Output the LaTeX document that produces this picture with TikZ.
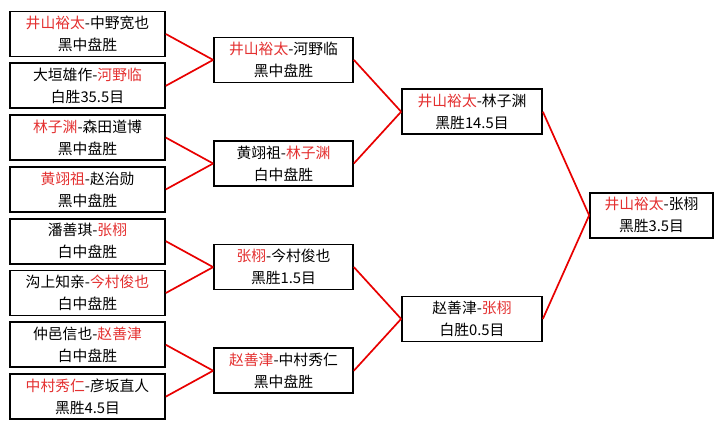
\documentclass[tikz,border=0pt]{standalone}
\usepackage{fontspec}
\newfontfamily\cjk{Noto Sans CJK SC}
\usetikzlibrary{positioning}
\definecolor{winred}{RGB}{228,48,48}
\definecolor{linered}{RGB}{232,0,0}
\newcommand{\win}[1]{\textcolor{winred}{#1}}

\begin{document}
\begin{tikzpicture}[x=1pt, y=-1pt,
    every node/.style={font={\cjk\fontsize{14.8}{22}\selectfont}, align=center, inner sep=0pt},
    game/.style={draw, line width=1.7pt, minimum height=45pt, fill=white},
    link/.style={draw=linered, line width=1.7pt}]
    \useasboundingbox[fill=white] (0,0) rectangle (723,429);

    % first round
    \foreach \i/\p/\r in {1/{\win{井山裕太}-中野宽也}/黑中盘胜, 2/{大垣雄作-\win{河野临}}/白胜35.5目,
        3/{\win{林子渊}-森田道博}/黑中盘胜, 4/{\win{黄翊祖}-赵治勋}/黑中盘胜,
        5/{潘善琪-\win{张栩}}/白中盘胜, 6/{沟上知亲-\win{今村俊也}}/白中盘胜,
        7/{仲邑信也-\win{赵善津}}/白中盘胜, 8/{\win{中村秀仁}-彦坂直人}/黑胜4.5目} {
        \pgfmathsetmacro\y{34+51.8*(\i-1)}
        \node[game, minimum width=155pt] (r1\i) at (87.5,\y) {\p\\\r};
    }

    % second round
    \foreach \i/\p/\r in {1/{\win{井山裕太}-河野临}/黑中盘胜, 2/{黄翊祖-\win{林子渊}}/白中盘胜,
        3/{\win{张栩}-今村俊也}/黑胜1.5目, 4/{\win{赵善津}-中村秀仁}/黑中盘胜} {
        \pgfmathsetmacro\y{34+51.8*(2*\i-1.5)}
        \pgfmathtruncatemacro\a{2*\i-1}
        \pgfmathtruncatemacro\b{2*\i}
        \node[game, minimum width=139pt] (r2\i) at (283.5,\y) {\p\\\r};
        \draw[link] (r1\a.east) -- (r2\i.west);
        \draw[link] (r1\b.east) -- (r2\i.west);
    }

    % semifinal
    \foreach \i/\p/\r in {1/{\win{井山裕太}-林子渊}/黑胜14.5目, 2/{赵善津-\win{张栩}}/白胜0.5目} {
        \pgfmathsetmacro\y{34+51.8*(4*\i-2.5)}
        \pgfmathtruncatemacro\a{2*\i-1}
        \pgfmathtruncatemacro\b{2*\i}
        \node[game, minimum width=140pt] (r3\i) at (472,\y) {\p\\\r};
        \draw[link] (r2\a.east) -- (r3\i.west);
        \draw[link] (r2\b.east) -- (r3\i.west);
    }

    % final
    \node[game, minimum width=123pt] (fin) at (651.5,215.3) {\win{井山裕太}-张栩\\黑胜3.5目};
    \draw[link] (r31.east) -- (fin.west);
    \draw[link] (r32.east) -- (fin.west);
\end{tikzpicture}
\end{document}
